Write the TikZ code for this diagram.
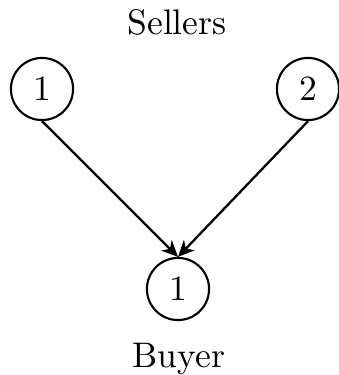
\documentclass[tikz,border=0pt]{standalone}
\usetikzlibrary{arrows.meta}
\begin{document}
\begin{tikzpicture}[x=0.2817pt,y=-0.2817pt,
  agent/.style={circle,draw,line width=0.6pt,minimum size=17.5pt,inner sep=0pt},
  link/.style={line width=0.65pt,-{Stealth[length=4.6pt,width=4.2pt,inset=1.4pt]}}]
\useasboundingbox (0,0) rectangle (338,375);
\node[anchor=base] (sellers) at (177,34) {Sellers};
\node[agent] (s1) at (42,89) {1};
\node[agent] (s2) at (308,89) {2};
\node[agent] (b1) at (178,289) {1};
\node[anchor=base] (buyer) at (179,367) {Buyer};
\draw[link] (s1.south) -- (b1.north);
\draw[link] (s2.south) -- (b1.north);
\end{tikzpicture}
\end{document}
